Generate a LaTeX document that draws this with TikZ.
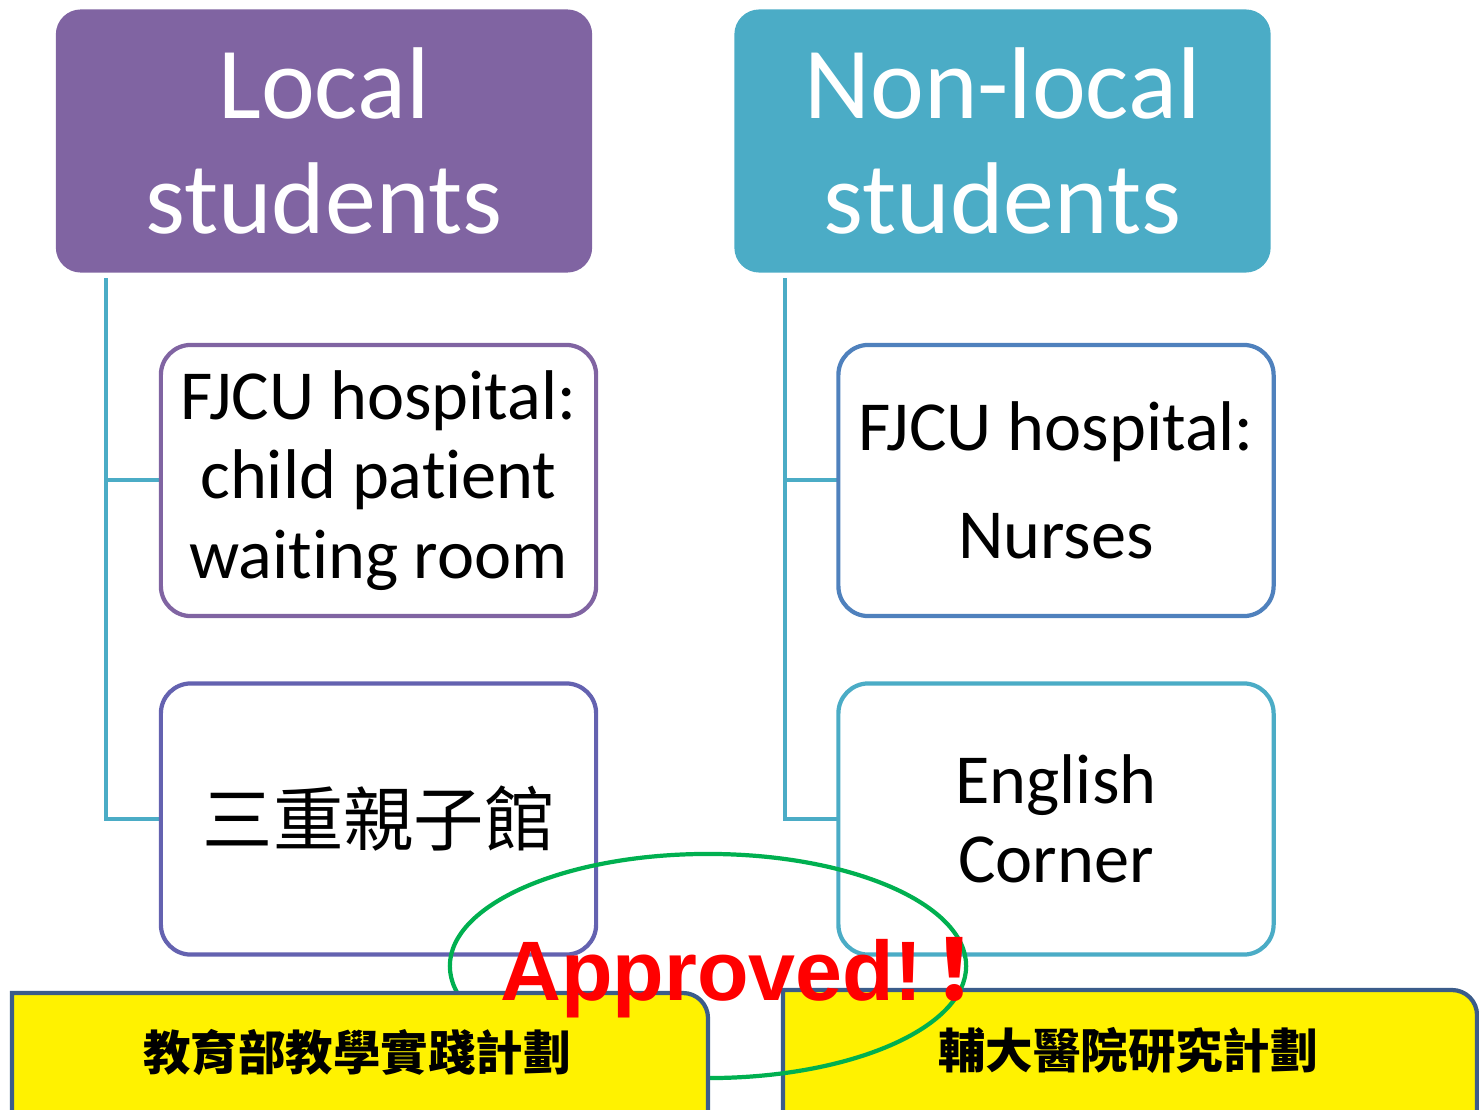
\documentclass[tikz,border=0pt]{standalone}
\usepackage{fontspec}
\setmainfont{Carlito}[Ligatures=NoCommon]
\newfontfamily\cjk{Noto Sans CJK TC}
\newfontfamily\approvedfont{Liberation Sans}

\definecolor{localcol}{HTML}{8064A2}
\definecolor{nonlocalcol}{HTML}{4BACC6}
\definecolor{parkcol}{HTML}{6462B0}
\definecolor{hospcol}{HTML}{4F81BD}
\definecolor{plancol}{HTML}{3B5C8A}
\definecolor{okcol}{HTML}{00B050}

\tikzset{
  head/.style={rounded corners=0.25cm, minimum width=5.36cm, minimum height=2.63cm,
    text=white, align=center, inner sep=0pt, font=\fontsize{29}{32.6}\selectfont},
  leaf/.style={draw, line width=1.2pt, rounded corners=0.3cm, fill=white,
    minimum width=4.35cm, minimum height=2.71cm, align=center, inner sep=0pt,
    font=\fontsize{20}{22.5}\selectfont},
  link/.style={draw=nonlocalcol, line width=1.2pt},
  plan/.style={draw=plancol, fill=yellow, line width=1.2pt},
  plantext/.style={font=\cjk\bfseries\fontsize{13.5}{15}\selectfont}
}

\begin{document}
\begin{tikzpicture}[x=0.01cm, y=-0.01cm]
\useasboundingbox (0,0) rectangle (1479,1109);

\node[head, fill=localcol] (local) at (324,141) {Local\\students};
\node[head, fill=nonlocalcol] (nonlocal) at (1002.5,141) {Non-local\\students};

\draw[link] ([xshift=0.51cm, yshift=-0.05cm]local.south west) |- (386,819) coordinate (lend);
\draw[link] ([xshift=0.51cm, yshift=-0.05cm]nonlocal.south west) |- (1060,819) coordinate (rend);
\draw[link] (107,480) -- (300,480);
\draw[link] (786,480) -- (1000,480);

\node[leaf, draw=localcol] (hosp) at (378.5,480.5) {FJCU hospital:\\child patient\\waiting room};
\node[leaf, draw=parkcol] (park) at (378.5,819) {{\cjk\fontsize{20}{22}\selectfont 三重親子館}};
\node[leaf, draw=hospcol] (nurse) at (1056,480.5) {FJCU hospital:\\[0.29cm]Nurses};
\node[leaf, draw=nonlocalcol] (corner) at (1056,819) {English\\Corner};

% research plan
\draw[plan] (783,1112) -- (783,990) -- (1452,990) arc[start angle=90, end angle=0, radius=0.25cm] -- (1477,1112);
\node[plantext] (hospplan) at (1128,1050) {輔大醫院研究計劃};

\draw[okcol, line width=1.2pt] (708,966) ellipse [x radius=2.58cm, y radius=1.12cm];

% teaching plan
\draw[plan] (12,1112) -- (12,993) -- (683,993) arc[start angle=90, end angle=0, radius=0.25cm] -- (708,1112);
\node[plantext] (moeplan) at (357,1052) {教育部教學實踐計劃};

\node[anchor=base west, text=red, font=\approvedfont\bfseries\fontsize{24}{24}\selectfont] (ok) at (488,1000) {Approved!\kern-0.1cm{\cjk\bfseries ！}};
\end{tikzpicture}
\end{document}
